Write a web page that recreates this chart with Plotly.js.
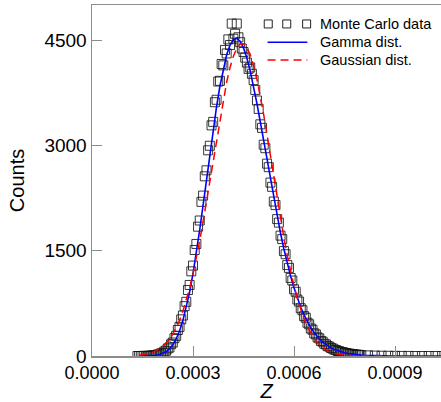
<!DOCTYPE html>
<html>
<head>
<meta charset="utf-8">
<script src="https://cdn.plot.ly/plotly-3.0.1.min.js"></script>
<style>
  html, body { margin: 0; padding: 0; background: #fff; }
  #chart { width: 441px; height: 402px; }
</style>
</head>
<body>
<div id="chart"></div>
<script>
// Monte Carlo histogram of Z (bin centres and counts)
const mcZ = [
  0.000135, 0.000140, 0.000145, 0.000150, 0.000155, 0.000160, 0.000165, 0.000170, 0.000175, 0.000180,
  0.000185, 0.000190, 0.000195, 0.000200, 0.000205, 0.000210, 0.000215, 0.000220, 0.000225, 0.000230,
  0.000235, 0.000240, 0.000245, 0.000250, 0.000255, 0.000260, 0.000265, 0.000270, 0.000275, 0.000280,
  0.000285, 0.000290, 0.000295, 0.000300, 0.000305, 0.000310, 0.000315, 0.000320, 0.000325, 0.000330,
  0.000335, 0.000340, 0.000345, 0.000350, 0.000355, 0.000360, 0.000365, 0.000370, 0.000375, 0.000380,
  0.000385, 0.000390, 0.000395, 0.000400, 0.000405, 0.000410, 0.000415, 0.000420, 0.000425, 0.000430,
  0.000435, 0.000440, 0.000445, 0.000450, 0.000455, 0.000460, 0.000465, 0.000470, 0.000475, 0.000480,
  0.000485, 0.000490, 0.000495, 0.000500, 0.000505, 0.000510, 0.000515, 0.000520, 0.000525, 0.000530,
  0.000535, 0.000540, 0.000545, 0.000550, 0.000555, 0.000560, 0.000565, 0.000570, 0.000575, 0.000580,
  0.000585, 0.000590, 0.000595, 0.000600, 0.000605, 0.000610, 0.000615, 0.000620, 0.000625, 0.000630,
  0.000635, 0.000640, 0.000645, 0.000650, 0.000655, 0.000660, 0.000665, 0.000670, 0.000675, 0.000680,
  0.000685, 0.000690, 0.000695, 0.000700, 0.000705, 0.000710, 0.000715, 0.000720, 0.000725, 0.000730,
  0.000735, 0.000740, 0.000745, 0.000750, 0.000755, 0.000760, 0.000765, 0.000770, 0.000775, 0.000780,
  0.000785, 0.000790, 0.000795, 0.000800,
  0.000820, 0.000840, 0.000860, 0.000880, 0.000900, 0.000920, 0.000940, 0.000960, 0.000980, 0.001000,
  0.001020, 0.001040
];
const mcCounts = [
  0, 0, 0, 1, 1, 1, 2, 3, 5, 7,
  10, 13, 20, 25, 37, 44, 64, 76, 106, 121,
  168, 192, 254, 287, 370, 415, 522, 576, 710, 772,
  940, 1012, 1206, 1288, 1510, 1596, 1842, 1930, 2196, 2285,
  2560, 2645, 2930, 2995, 3285, 3335, 3615, 3650, 3910, 3920,
  4160, 4140, 4360, 4310, 4510, 4430, 4735, 4520, 4590, 4735,
  4540, 4470, 4380, 4330, 4250, 4180, 4090, 4110, 4020, 3930,
  3790, 3640, 3520, 3300, 3250, 3010, 2960, 2740, 2690, 2470,
  2410, 2200, 2150, 1950, 1900, 1715, 1665, 1495, 1450, 1295,
  1255, 1112, 1075, 950, 915, 805, 775, 680, 652, 568,
  545, 474, 452, 392, 374, 323, 307, 265, 251, 215,
  204, 175, 165, 141, 133, 113, 106, 90, 84, 71,
  66, 57, 53, 45, 42, 35, 33, 27, 26, 21,
  20, 17, 15, 12,
  9, 6, 4, 3, 2, 1, 1, 0, 0, 0,
  0, 0
];

// Fitted curves, sampled on a common Z grid
const fitZ = [
  0.00014, 0.00015, 0.00016, 0.00017, 0.00018, 0.00019, 0.00020, 0.00021, 0.00022, 0.00023,
  0.00024, 0.00025, 0.00026, 0.00027, 0.00028, 0.00029, 0.00030, 0.00031, 0.00032, 0.00033,
  0.00034, 0.00035, 0.00036, 0.00037, 0.00038, 0.00039, 0.00040, 0.00041, 0.00042, 0.00043,
  0.00044, 0.00045, 0.00046, 0.00047, 0.00048, 0.00049, 0.00050, 0.00051, 0.00052, 0.00053,
  0.00054, 0.00055, 0.00056, 0.00057, 0.00058, 0.00059, 0.00060, 0.00061, 0.00062, 0.00063,
  0.00064, 0.00065, 0.00066, 0.00067, 0.00068, 0.00069, 0.00070, 0.00071, 0.00072, 0.00073,
  0.00074, 0.00075, 0.00076, 0.00077, 0.00078, 0.00079, 0.00080, 0.00081, 0.00082, 0.00083,
  0.00086, 0.00090, 0.00095, 0.00100, 0.00105
];
const gammaFit = [
  0.1, 0.3, 0.9, 2.1, 4.7, 9.7, 19, 35, 61, 101,
  160, 243, 357, 504, 688, 912, 1174, 1472, 1800, 2150,
  2512, 2875, 3226, 3553, 3846, 4095, 4291, 4429, 4508, 4525,
  4484, 4389, 4245, 4059, 3840, 3595, 3332, 3058, 2782, 2508,
  2241, 1987, 1748, 1525, 1322, 1137, 971, 824, 695, 582,
  485, 401, 331, 271, 220, 179, 144, 116, 92, 73,
  58, 46, 36, 28, 22, 17, 13, 10, 8, 6,
  2.5, 0.8, 0.2, 0, 0
];
const gaussFit = [
  12, 18, 26, 37, 52, 73, 100, 135, 180, 238,
  311, 400, 508, 638, 791, 968, 1170, 1397, 1647, 1917,
  2203, 2501, 2804, 3104, 3393, 3662, 3903, 4109, 4271, 4384,
  4444, 4448, 4396, 4291, 4136, 3937, 3700, 3435, 3148, 2849,
  2546, 2247, 1959, 1686, 1433, 1203, 997, 816, 660, 526,
  415, 323, 248, 188, 141, 104, 76, 55, 39, 28,
  19, 13, 9, 6, 4, 2.7, 1.7, 1, 0.6, 0.4,
  0.1, 0, 0, 0, 0
];

// Legend entries
const legendLabels = ['Monte Carlo data', 'Gamma dist.', 'Gaussian dist.'];

const FONT = 'Liberation Sans, Arial, Helvetica, sans-serif';
const AXIS_GREY = '#8c8c8c';

const traces = [
  {
    x: mcZ, y: mcCounts, type: 'scatter', mode: 'markers', name: legendLabels[0],
    marker: { symbol: 'square-open', size: 9, color: 'rgba(20,20,20,0.85)', line: { width: 1 } },
    cliponaxis: true, showlegend: false
  },
  {
    x: fitZ, y: gammaFit, type: 'scatter', mode: 'lines', name: legendLabels[1],
    line: { color: '#0000ff', width: 1.6 }, showlegend: false
  },
  {
    x: fitZ, y: gaussFit, type: 'scatter', mode: 'lines', name: legendLabels[2],
    line: { color: '#ff0000', width: 1.5, dash: '8px,5px' }, showlegend: false
  }
];

// Hand-built legend keys (paper coordinates, pixel-sized symbols)
const keyX = [0.505, 0.558, 0.615];
const rowY = [0.946, 0.894, 0.843];
const shapes = [];
keyX.forEach(function (kx) {
  shapes.push({
    type: 'rect', xref: 'paper', yref: 'paper',
    xsizemode: 'pixel', ysizemode: 'pixel',
    xanchor: kx, yanchor: rowY[0], x0: -4, x1: 4, y0: -4, y1: 4,
    line: { color: '#222', width: 1 }, fillcolor: 'rgba(0,0,0,0)'
  });
});
shapes.push({
  type: 'line', xref: 'paper', yref: 'paper', x0: 0.503, x1: 0.617, y0: rowY[1], y1: rowY[1],
  line: { color: '#0000ff', width: 1.6 }
});
shapes.push({
  type: 'line', xref: 'paper', yref: 'paper', x0: 0.503, x1: 0.617, y0: rowY[2], y1: rowY[2],
  line: { color: '#ff0000', width: 1.5, dash: '8px,5px' }
});

const annotations = legendLabels.map(function (t, i) {
  return {
    text: t, xref: 'paper', yref: 'paper', x: 0.648, y: rowY[i],
    xanchor: 'left', yanchor: 'middle', showarrow: false,
    font: { family: FONT, size: 14.5, color: '#000' }
  };
});

const layout = {
  width: 441, height: 402,
  margin: { l: 92, r: 0, t: 5, b: 46 },
  paper_bgcolor: '#fff', plot_bgcolor: '#fff',
  font: { family: FONT, color: '#000' },
  showlegend: false,
  xaxis: {
    range: [0, 0.0010366],
    tick0: 0, dtick: 0.0003, tickformat: '.4f',
    ticks: 'inside', ticklen: 10, tickwidth: 1, tickcolor: AXIS_GREY,
    showline: true, linecolor: AXIS_GREY, linewidth: 1.5, mirror: true,
    showgrid: false, zeroline: false,
    tickfont: { family: FONT, size: 18, color: '#000' },
    title: { text: '<i>Z</i>', font: { family: FONT, size: 20, color: '#000' }, standoff: 7 }
  },
  yaxis: {
    range: [0, 5000],
    tick0: 0, dtick: 1500,
    ticks: 'inside', ticklen: 10, tickwidth: 1, tickcolor: AXIS_GREY,
    showline: true, linecolor: AXIS_GREY, linewidth: 1.5, mirror: false,
    showgrid: false, zeroline: false,
    tickfont: { family: FONT, size: 19, color: '#000' },
    title: { text: 'Counts', font: { family: FONT, size: 20, color: '#000' }, standoff: 14 }
  },
  shapes: shapes,
  annotations: annotations
};

Plotly.newPlot('chart', traces, layout, { staticPlot: true, displayModeBar: false });
</script>
</body>
</html>
